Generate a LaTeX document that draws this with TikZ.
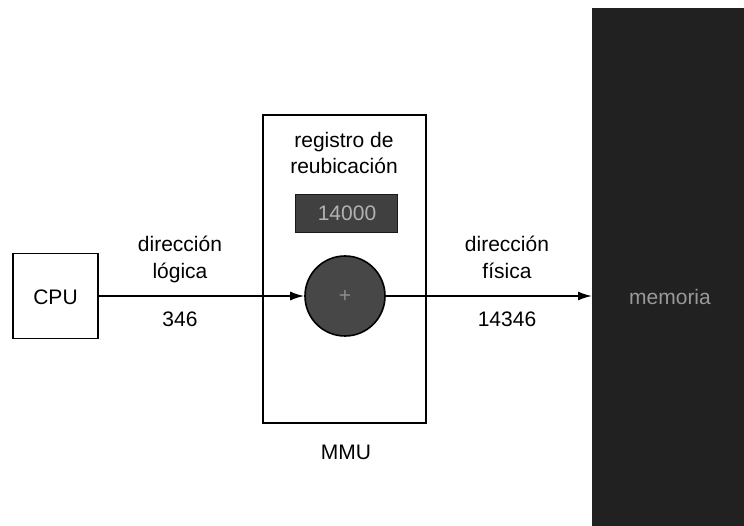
\documentclass[tikz,border=0pt]{standalone}
\usepackage{fontspec}
\setmainfont{Liberation Sans}
\usetikzlibrary{arrows.meta}
\begin{document}
\begin{tikzpicture}[x=1pt,y=-1pt,
  font=\fontsize{21}{25}\selectfont,
  box/.style={draw=black, line width=1.6pt, inner sep=0pt},
  lbl/.style={anchor=base, inner sep=0pt},
  darklbl/.style={anchor=base, inner sep=0pt, text=black!12},
  conn/.style={line width=1.7pt, -{Latex[length=14pt,width=9pt]}}]
\useasboundingbox (0,0) rectangle (744,526);
% memory
\node[fill=black!87, draw=black!87, minimum width=152pt, minimum height=518pt, inner sep=0pt, anchor=north west] (mem) at (592,8) {};
\node[darklbl, text=black!40] (memtxt) at (670,305) {memoria};
% CPU
\node[box, minimum width=85pt, minimum height=85pt] (cpu) at (55.5,296) {};
\node[lbl] (cputxt) at (55.5,305) {CPU};
% MMU
\node[box, minimum width=163pt, minimum height=308pt] (mmu) at (344.5,269) {};
\node[lbl] (reg1) at (344,148) {registro de};
\node[lbl] (reg2) at (344,174) {reubicación};
\node[fill=black!75, draw=black!90, line width=1pt, minimum width=102pt, minimum height=38pt, inner sep=0pt] (reg) at (346,214) {};
\node[darklbl, text=black!30] (regtxt) at (347,221) {14000};
\node[circle, fill=black!72, draw=black, line width=1.6pt, minimum size=80pt, inner sep=0pt] (add) at (345,296) {};
\node[text=black!45, inner sep=0pt] (plus) at (345,296) {+};
\node[lbl] (mmutxt) at (346,459) {MMU};
% labels
\node[lbl] (l1) at (180,252) {dirección};
\node[lbl] (l2) at (180,279) {lógica};
\node[lbl] (l3) at (180,327) {346};
\node[lbl] (p1) at (507,252) {dirección};
\node[lbl] (p2) at (507,279) {física};
\node[lbl] (p3) at (507,327) {14346};
% connectors
\draw[conn] (cpu.east) -- (add.west);
\draw[conn] (add.east) -- (add.east -| mem.west);
\end{tikzpicture}
\end{document}
